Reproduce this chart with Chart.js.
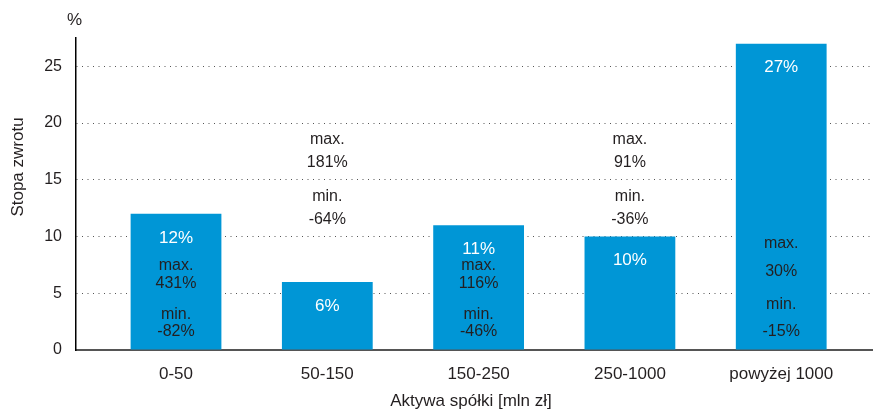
<!DOCTYPE html>
<html>
<head>
<meta charset="utf-8">
<script src="https://cdn.jsdelivr.net/npm/chart.js@4/dist/chart.umd.min.js"></script>
<style>
  html, body { margin: 0; padding: 0; background: #fff; }
  #wrap { width: 873px; height: 412px; position: relative; }
</style>
</head>
<body>
<div id="wrap"><canvas id="c"></canvas></div>
<script>
// Average return by company asset size, with the range (max / min) of returns
const categories = ['0-50', '50-150', '150-250', '250-1000', 'powyżej 1000'];
const avgReturn = [12, 6, 11, 10, 27];
const maxReturn = [431, 181, 116, 91, 30];
const minReturn = [-82, -64, -46, -36, -15];
const yTickStep = 5;
const yMax = 27.5;

// Vertical anchors (axis units) of the "max." / max value / "min." / min value captions
const captionAnchors = [
  [7.41, 5.88, 3.09, 1.62],
  [18.53, 16.53, 13.53, 11.53],
  [7.47, 5.82, 3.09, 1.62],
  [18.53, 16.53, 13.53, 11.53],
  [9.41, 6.91, 3.97, 1.62]
];

const FONT = "'Liberation Sans', Arial, Helvetica, sans-serif";
const DARK = '#231f20';
const BAR = '#0096d6';

const barTexts = {
  id: 'barTexts',
  afterDatasetsDraw(chart) {
    const { ctx } = chart;
    const y = chart.scales.y;
    const meta = chart.getDatasetMeta(0);
    ctx.save();
    ctx.textAlign = 'center';
    ctx.textBaseline = 'middle';
    meta.data.forEach((bar, i) => {
      ctx.fillStyle = '#ffffff';
      ctx.font = '17px ' + FONT;
      ctx.fillText(avgReturn[i] + '%', bar.x, bar.y + 24);

      ctx.fillStyle = DARK;
      ctx.font = '16px ' + FONT;
      const lines = ['max.', maxReturn[i] + '%', 'min.', minReturn[i] + '%'];
      lines.forEach((t, k) => ctx.fillText(t, bar.x, y.getPixelForValue(captionAnchors[i][k])));
    });

    const area = chart.chartArea;
    ctx.fillStyle = DARK;
    ctx.font = '17px ' + FONT;
    ctx.fillText('%', area.left - 1.5, area.top - 18);
    ctx.fillText('Aktywa spółki [mln zł]', (area.left + area.right) / 2 - 3, 401);
    ctx.translate(18, 167);
    ctx.rotate(-Math.PI / 2);
    ctx.fillText('Stopa zwrotu', 0, 0);
    ctx.restore();
  }
};

new Chart(document.getElementById('c'), {
  type: 'bar',
  data: {
    datasets: [{
      data: avgReturn.map((v, i) => ({ x: i, y: v })),
      backgroundColor: BAR,
      borderWidth: 0,
      barPercentage: 0.6,
      categoryPercentage: 1
    }]
  },
  options: {
    responsive: true,
    maintainAspectRatio: false,
    animation: false,
    devicePixelRatio: 1,
    layout: { padding: { top: 38, right: 1, left: 0, bottom: 0 } },
    plugins: { legend: { display: false }, tooltip: { enabled: false } },
    scales: {
      x: {
        type: 'linear',
        min: -0.661,
        max: 4.6,
        offset: false,
        z: 1,
        afterBuildTicks: (scale) => { scale.ticks = categories.map((_, i) => ({ value: i })); },
        afterFit: (scale) => { scale.height = 62; },
        grid: { display: false, drawTicks: false, offset: false },
        border: { display: true, color: '#555555', width: 2 },
        ticks: {
          autoSkip: false,
          maxRotation: 0,
          padding: 14,
          color: DARK,
          font: { family: FONT, size: 17 },
          callback: (v) => categories[v]
        }
      },
      y: {
        min: 0,
        max: yMax,
        afterFit: (scale) => { scale.width = 76; },
        grid: { color: '#555555', lineWidth: 1, drawTicks: false },
        border: { display: true, color: '#000000', width: 1.5, dash: [1, 4.5] },
        ticks: {
          stepSize: yTickStep,
          includeBounds: false,
          padding: 14,
          color: DARK,
          font: { family: FONT, size: 16 }
        }
      }
    }
  },
  plugins: [barTexts]
});
</script>
</body>
</html>
